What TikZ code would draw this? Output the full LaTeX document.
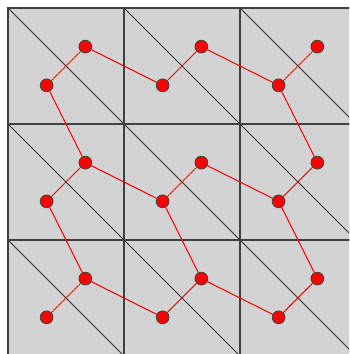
\documentclass[tikz,border=0pt]{standalone}
\definecolor{cellgray}{RGB}{211,211,211}

\begin{document}
\begin{tikzpicture}[
  x=3cm, y=3cm,
  cell/.style={fill=cellgray, draw=black!75, line width=0.8pt},
  diag/.style={draw=black!80, line width=0.7pt},
  dot/.style={circle, fill=red, draw=black!75, line width=0.6pt,
              inner sep=0pt, minimum size=9.4pt},
  link/.style={draw=red, line width=0.75pt}
]
\useasboundingbox (-0.069,0.017) rectangle (2.940,3.069);
\clip (-0.069,0.017) rectangle (2.940,3.069);

% cells and their diagonals
\foreach \i in {0,1,2}
  \foreach \j in {0,1,2} {
    \draw[cell] (\i,\j) rectangle ++(1,1);
    \draw[diag] (\i,\j+1) -- (\i+1,\j);
  }

% triangle centres
\node[dot] (a1u) at (0.667,2.667) {};
\node[dot] (a1l) at (0.333,2.333) {};
\node[dot] (b1u) at (1.667,2.667) {};
\node[dot] (b1l) at (1.333,2.333) {};
\node[dot] (c1u) at (2.667,2.667) {};
\node[dot] (c1l) at (2.333,2.333) {};
\node[dot] (a2u) at (0.667,1.667) {};
\node[dot] (a2l) at (0.333,1.333) {};
\node[dot] (b2u) at (1.667,1.667) {};
\node[dot] (b2l) at (1.333,1.333) {};
\node[dot] (c2u) at (2.667,1.667) {};
\node[dot] (c2l) at (2.333,1.333) {};
\node[dot] (a3u) at (0.667,0.667) {};
\node[dot] (a3l) at (0.333,0.333) {};
\node[dot] (b3u) at (1.667,0.667) {};
\node[dot] (b3l) at (1.333,0.333) {};
\node[dot] (c3u) at (2.667,0.667) {};
\node[dot] (c3l) at (2.333,0.333) {};

% adjacency
\draw[link] (a1u) -- (a1l);
\draw[link] (a1u) -- (b1l);
\draw[link] (b1l) -- (b1u);
\draw[link] (b1u) -- (c1l);
\draw[link] (c1l) -- (c1u);
\draw[link] (c1l) -- (c2u);
\draw[link] (a1l) -- (a2u);
\draw[link] (a2u) -- (a2l);
\draw[link] (a2u) -- (b2l);
\draw[link] (b2l) -- (b2u);
\draw[link] (b2u) -- (c2l);
\draw[link] (c2l) -- (c2u);
\draw[link] (c2l) -- (c3u);
\draw[link] (b2l) -- (b3u);
\draw[link] (a2l) -- (a3u);
\draw[link] (a3u) -- (a3l);
\draw[link] (a3u) -- (b3l);
\draw[link] (b3l) -- (b3u);
\draw[link] (b3u) -- (c3l);
\draw[link] (c3l) -- (c3u);
\end{tikzpicture}
\end{document}
